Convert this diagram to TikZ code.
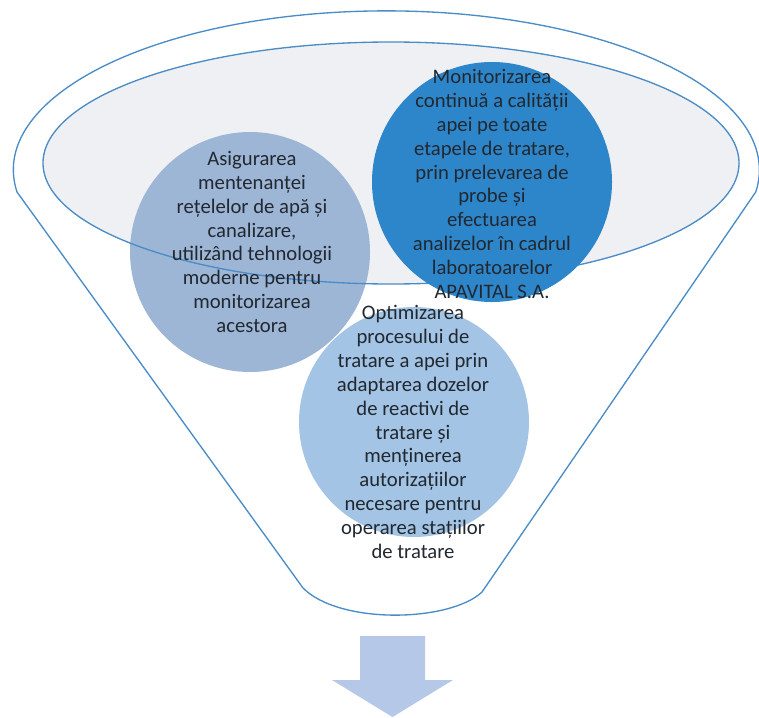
\documentclass[tikz,border=0pt]{standalone}
\usepackage{fontspec}
\setmainfont{Carlito}
\definecolor{funnelline}{RGB}{74,140,199}
\definecolor{rimfill}{RGB}{238,240,244}
\definecolor{greyblue}{RGB}{158,182,214}
\definecolor{deepblue}{RGB}{46,134,202}
\definecolor{paleblue}{RGB}{163,196,228}
\definecolor{arrowblue}{RGB}{181,200,231}
\definecolor{txt}{RGB}{33,40,48}
\tikzset{
  funnel/.style={draw=funnelline,line width=1pt},
  goal/.style={text=txt,align=center,inner sep=0pt,font=\fontsize{15.5}{17.9}\selectfont}
}
\begin{document}
\begin{tikzpicture}[x=0.75pt,y=-0.75pt]
\useasboundingbox (0,0) rectangle (759,717);
\draw[funnel,fill=white] (17,192) arc[start angle=172,end angle=368,x radius=373,y radius=159] -- (482,592) .. controls (450,622) and (340,625) .. (303,588) -- cycle;

\fill[rimfill] (391,163) ellipse[x radius=348,y radius=121];
\fill[greyblue] (250,252) circle[radius=120];
\draw[funnel] (391,163) ellipse[x radius=348,y radius=121];
\fill[deepblue] (492,182) circle[radius=120];
\fill[paleblue] (414,422) circle[radius=115];
\fill[arrowblue] (360,636) -- (425,636) -- (425,680) -- (453,680) -- (392.5,717) -- (332,680) -- (360,680) -- cycle;

\node[goal] (upkeep) at (252,242) {Asigurarea\\mentenanței\\rețelelor de apă și\\canalizare,\\utilizând tehnologii\\moderne pentru\\monitorizarea\\acestora};
\node[goal] (quality) at (492,184) {Monitorizarea\\continuă a calității\\apei pe toate\\etapele de tratare,\\prin prelevarea de\\probe și\\efectuarea\\analizelor în cadrul\\laboratoarelor\\APAVITAL S.A.};
\node[goal] (dosing) at (413,432) {Optimizarea\\procesului de\\tratare a apei prin\\adaptarea dozelor\\de reactivi de\\tratare și\\menținerea\\autorizațiilor\\necesare pentru\\operarea stațiilor\\de tratare};
\end{tikzpicture}
\end{document}
